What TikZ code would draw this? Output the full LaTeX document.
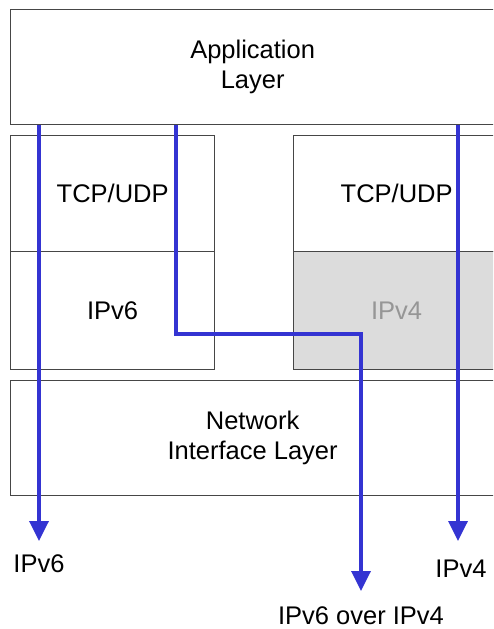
\documentclass[tikz,border=0pt]{standalone}
\usepackage{fontspec}
\setmainfont{Liberation Sans}
\usetikzlibrary{arrows.meta}
\definecolor{flowblue}{RGB}{52,52,210}
\definecolor{boxline}{RGB}{70,70,70}
\definecolor{vfourfill}{RGB}{220,220,220}
\definecolor{vfourtext}{RGB}{150,150,150}

\begin{document}
\begin{tikzpicture}[x=1pt,y=-1pt,
  layer/.style={draw=boxline,line width=1.3pt,anchor=north west,align=center,inner sep=0pt,font=\fontsize{25.5}{30}\selectfont},
  grey/.style={layer,fill=vfourfill,text=vfourtext},
  flow/.style={draw=flowblue,line width=3.5pt,-{Triangle[width=19pt,length=20pt]}},
  lbl/.style={anchor=base,font=\fontsize{25.5}{30}\selectfont}]
\clip (0,0) rectangle (493,629);
\node[layer,minimum width=484,minimum height=115] (app) at (10,9) {Application\\Layer};
\node[layer,minimum width=204,minimum height=116] (tcpsix) at (10,135) {TCP/UDP};
\node[layer,minimum width=204,minimum height=118] (ipsix) at (10,251) {IPv6};
\node[layer,minimum width=206,minimum height=116] (tcpfour) at (293,135) {TCP/UDP};
\node[grey,minimum width=206,minimum height=118] (ipfour) at (293,251) {IPv4};
\node[layer,minimum width=484,minimum height=115] (net) at (10,380) {Network\\Interface Layer};
\coordinate (sixend) at (39,541);
\coordinate (fourend) at (458,541);
\coordinate (bend) at (176,334);
\coordinate (tunnelend) at (361,591);
\draw[flow] (app.south -| sixend) -- (sixend);
\draw[flow] (app.south -| fourend) -- (fourend);
\draw[flow] (app.south -| bend) -- (bend) -| (tunnelend);
\node[lbl] (sixlbl) at (39,572) {IPv6};
\node[lbl] (fourlbl) at (461,577) {IPv4};
\node[lbl] (tunnellbl) at (361,624) {IPv6 over IPv4};
\end{tikzpicture}
\end{document}
